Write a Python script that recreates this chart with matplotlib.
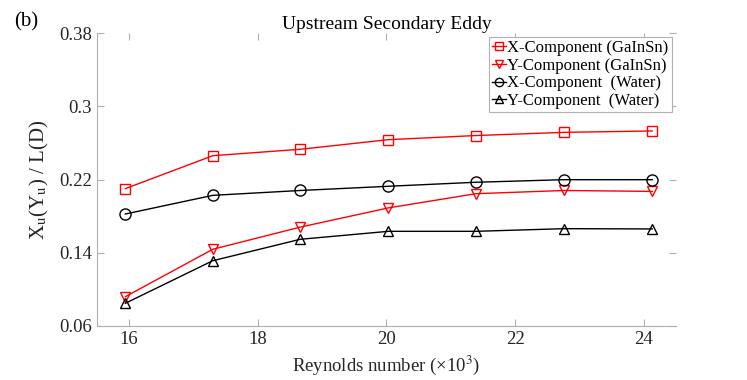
import matplotlib
matplotlib.use('Agg')
import matplotlib.pyplot as plt

plt.rcParams['font.family'] = ['Liberation Serif', 'DejaVu Serif']
plt.rcParams['mathtext.fontset'] = 'stix'

# Reynolds number (x10^3)
re = [15.94, 17.30, 18.66, 20.03, 21.39, 22.76, 24.13]

x_gainsn = [0.210, 0.246, 0.253, 0.2635, 0.268, 0.2715, 0.273]
y_gainsn = [0.092, 0.1438, 0.168, 0.189, 0.2045, 0.208, 0.207]
x_water = [0.1823, 0.2027, 0.208, 0.2126, 0.217, 0.2198, 0.2198]
y_water = [0.0848, 0.1313, 0.1547, 0.1634, 0.1634, 0.1663, 0.166]

xticks = [16, 18, 20, 22, 24]
yticks = [0.06, 0.14, 0.22, 0.3, 0.38]
ytick_labels = ['0.06', '0.14', '0.22', '0.3', '0.38']

fig = plt.figure(figsize=(7.47, 3.80), dpi=100)
ax = fig.add_axes([97 / 747, 1 - 326 / 380, (676 - 97) / 747, (326 - 33) / 380])

ax.plot(re, x_gainsn, color='red', lw=1, marker='s', ms=7, mfc='none', mec='red',
        label='X-Component (GaInSn)')
ax.plot(re, y_gainsn, color='red', lw=1, marker='v', ms=7.5, mfc='none', mec='red',
        label='Y-Component (GaInSn)')
ax.plot(re, x_water, color='black', lw=1, marker='o', ms=8, mfc='none', mec='black',
        label='X-Component  (Water)')
ax.plot(re, y_water, color='black', lw=1, marker='^', ms=7.5, mfc='none', mec='black',
        label='Y-Component  (Water)')

ax.set_xlim(15.5, 24.5)
ax.set_ylim(0.06, 0.38)
ax.set_xticks(xticks)
ax.set_yticks(yticks)
ax.set_yticklabels(ytick_labels)

for side in ['top', 'right']:
    ax.spines[side].set_visible(False)
for side in ['left', 'bottom']:
    ax.spines[side].set_color('#b0b0b0')
ax.tick_params(direction='in', length=5, color='#b0b0b0', labelsize=13.5, labelcolor='#262626',
               top=True, right=True)

ax.set_xlabel('Reynolds number (×10$^3$)', fontsize=13.5, color='#262626')
ax.set_ylabel('X$_\\mathrm{u}$(Y$_\\mathrm{u}$) / L(D)', fontsize=15, color='#262626',
              labelpad=6)
ax.set_title('Upstream Secondary Eddy', fontsize=14, pad=3)

leg = ax.legend(loc='upper right', fontsize=12, handlelength=0.8, handletextpad=0.1,
                borderpad=0.2, labelspacing=0.1, fancybox=False, framealpha=1,
                markerscale=0.75, borderaxespad=0, bbox_to_anchor=(0.993, 0.987))
leg.get_frame().set_edgecolor('#b0b0b0')
leg.get_frame().set_linewidth(0.8)

fig.text(14 / 747, 1 - 22 / 380, '(b)', fontsize=15, va='center')

fig.savefig('out.png', dpi=100)
